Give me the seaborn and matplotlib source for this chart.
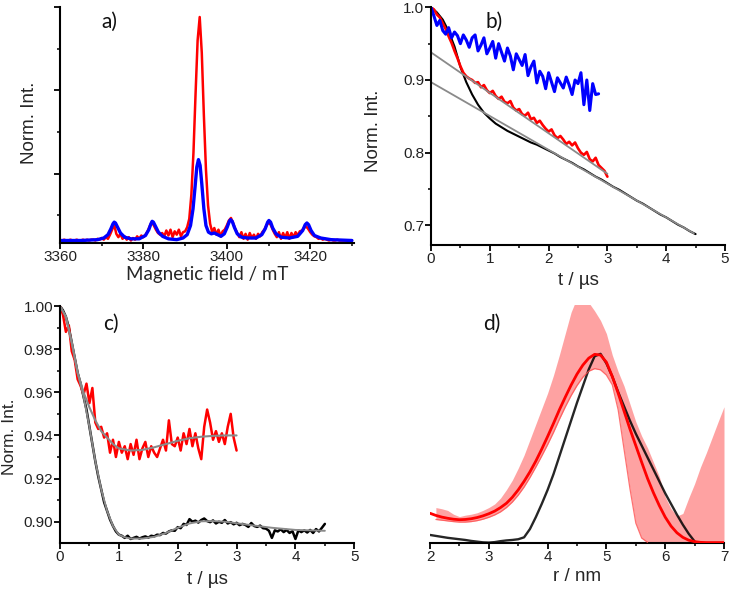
import numpy as np
import matplotlib
matplotlib.use("Agg")
import matplotlib.pyplot as plt
import seaborn as sns

# ---- panel a: EPR spectra (field in mT, arbitrary intensity) ----
a_red_field = np.arange(3360, 3430.01, 0.5)
a_red = [
    0.20, 0.20, 0.21, 0.20, 0.20, 0.21, 0.20, 0.20, 0.21, 0.20,
    0.20, 0.21, 0.20, 0.21, 0.20, 0.21, 0.21, 0.20, 0.22, 0.21,
    0.23, 0.21, 0.24, 0.22, 0.27, 0.33, 0.39, 0.28, 0.24, 0.28,
    0.22, 0.25, 0.21, 0.24, 0.20, 0.23, 0.21, 0.25, 0.22, 0.26,
    0.24, 0.27, 0.31, 0.37, 0.42, 0.38, 0.33, 0.29, 0.27, 0.29,
    0.25, 0.32, 0.26, 0.33, 0.24, 0.31, 0.27, 0.33, 0.25, 0.30,
    0.31, 0.36, 0.46, 0.75, 1.25, 1.95, 2.60, 2.88, 2.45, 1.70,
    1.05, 0.62, 0.40, 0.30, 0.35, 0.27, 0.33, 0.25, 0.31, 0.33,
    0.38, 0.44, 0.47, 0.41, 0.34, 0.29, 0.24, 0.30, 0.22, 0.28,
    0.21, 0.29, 0.23, 0.27, 0.22, 0.28, 0.25, 0.30, 0.33, 0.38,
    0.42, 0.39, 0.33, 0.28, 0.24, 0.30, 0.22, 0.29, 0.23, 0.30,
    0.22, 0.29, 0.24, 0.30, 0.26, 0.31, 0.32, 0.35, 0.37, 0.34,
    0.30, 0.27, 0.25, 0.24, 0.22, 0.23, 0.21, 0.22, 0.21, 0.20,
    0.21, 0.20, 0.20, 0.21, 0.20, 0.20, 0.20, 0.20, 0.20, 0.20,
    0.20,
]
a_blue_field = [
    3360, 3365, 3369, 3370.5, 3371.5, 3372.2, 3372.7, 3373.0, 3373.3, 3373.8,
    3374.5, 3375.5, 3377, 3379, 3380.5, 3381.3, 3381.8, 3382.1, 3382.4, 3382.9,
    3383.6, 3384.6, 3386, 3388, 3389.5, 3390.5, 3391.3, 3391.9, 3392.4, 3392.8,
    3393.2, 3393.6, 3394.0, 3394.5, 3395.0, 3395.6, 3396.3, 3397.0, 3397.8, 3398.6,
    3399.4, 3400.1, 3400.6, 3400.9, 3401.3, 3401.8, 3402.5, 3403.5, 3405, 3407,
    3408.4, 3409.2, 3409.8, 3410.1, 3410.5, 3411.0, 3411.8, 3413, 3415, 3417,
    3418.2, 3418.8, 3419.2, 3419.6, 3420.2, 3421, 3422.5, 3425, 3430,
]
a_blue = [
    0.20, 0.20, 0.21, 0.23, 0.27, 0.34, 0.40, 0.42, 0.41, 0.36,
    0.29, 0.24, 0.22, 0.22, 0.26, 0.33, 0.40, 0.43, 0.42, 0.37,
    0.30, 0.25, 0.22, 0.21, 0.23, 0.27, 0.38, 0.58, 0.85, 1.08,
    1.17, 1.10, 0.88, 0.58, 0.38, 0.30, 0.28, 0.29, 0.27, 0.25,
    0.28, 0.36, 0.43, 0.45, 0.43, 0.36, 0.28, 0.24, 0.23, 0.23,
    0.27, 0.34, 0.42, 0.44, 0.42, 0.35, 0.28, 0.24, 0.23, 0.25,
    0.32, 0.39, 0.41, 0.39, 0.32, 0.26, 0.23, 0.21, 0.20,
]

# ---- panel b: raw DEER traces ----
b_black_t = np.round(np.arange(0, 4.501, 0.1), 2)
b_black = [
    1.000, 0.993, 0.983, 0.967, 0.946, 0.918, 0.897, 0.880, 0.866, 0.855,
    0.847, 0.840, 0.835, 0.830, 0.826, 0.822, 0.818, 0.814, 0.811, 0.807,
    0.803, 0.799, 0.794, 0.790, 0.786, 0.781, 0.777, 0.772, 0.767, 0.763,
    0.758, 0.753, 0.749, 0.744, 0.739, 0.734, 0.730, 0.725, 0.720, 0.715,
    0.711, 0.706, 0.701, 0.697, 0.692, 0.688,
]
b_red_t = np.round(np.arange(0, 3.001, 0.05), 2)
b_red = [
    1.000, 0.997, 0.990, 0.986, 0.978, 0.970, 0.960, 0.951, 0.940, 0.930,
    0.919, 0.910, 0.905, 0.902, 0.900, 0.896, 0.897, 0.890, 0.893, 0.886,
    0.882, 0.885, 0.878, 0.874, 0.877, 0.870, 0.868, 0.871, 0.862, 0.858,
    0.860, 0.853, 0.851, 0.855, 0.846, 0.848, 0.841, 0.844, 0.838, 0.833,
    0.829, 0.832, 0.824, 0.820, 0.823, 0.818, 0.812, 0.815, 0.810, 0.814,
    0.806, 0.800, 0.797, 0.801, 0.791, 0.788, 0.793, 0.783, 0.779, 0.775,
    0.767,
]
b_blue_t = np.round(np.arange(0, 2.851, 0.05), 2)
b_blue = [
    1.000, 0.988, 0.975, 0.982, 0.968, 0.963, 0.972, 0.958, 0.966, 0.961,
    0.950, 0.962, 0.955, 0.945, 0.958, 0.962, 0.940, 0.948, 0.958, 0.936,
    0.944, 0.953, 0.930, 0.950, 0.938, 0.926, 0.944, 0.933, 0.914, 0.936,
    0.928, 0.920, 0.935, 0.906, 0.918, 0.926, 0.896, 0.912, 0.905, 0.888,
    0.910, 0.897, 0.884, 0.903, 0.896, 0.889, 0.904, 0.893, 0.880, 0.900,
    0.895, 0.910, 0.866, 0.900, 0.858, 0.895, 0.880, 0.881,
]
b_bg_low_t = [0.0, 4.47]
b_bg_low = [0.897, 0.689]
b_bg_up_t = [0.0, 3.0]
b_bg_up = [0.938, 0.771]

# ---- panel c: background corrected traces and fits ----
c_red_t = np.round(np.arange(0, 3.001, 0.05), 2)
c_red = [
    1.000, 0.996, 0.988, 0.991, 0.979, 0.975, 0.966, 0.963, 0.959, 0.964,
    0.955, 0.962, 0.946, 0.943, 0.944, 0.939, 0.941, 0.932, 0.938, 0.930,
    0.937, 0.932, 0.935, 0.929, 0.936, 0.931, 0.938, 0.929, 0.934, 0.937,
    0.930, 0.935, 0.932, 0.930, 0.934, 0.938, 0.933, 0.947, 0.936, 0.935,
    0.939, 0.933, 0.941, 0.936, 0.943, 0.935, 0.941, 0.934, 0.929, 0.944,
    0.952, 0.946, 0.938, 0.942, 0.937, 0.941, 0.936, 0.944, 0.950, 0.939,
    0.933,
]
c_black_t = np.round(np.arange(0, 4.501, 0.05), 2)
c_black = [
    1.000, 0.998, 0.995, 0.990, 0.983, 0.976, 0.969, 0.964, 0.958, 0.952,
    0.944, 0.936, 0.928, 0.921, 0.915, 0.909, 0.905, 0.901, 0.898, 0.8955,
    0.8940, 0.8935, 0.8925, 0.8935, 0.8920, 0.8925, 0.8930, 0.8922, 0.8928, 0.8932,
    0.8926, 0.8935, 0.8932, 0.8940, 0.8938, 0.8948, 0.8945, 0.8955, 0.8960, 0.8958,
    0.8975, 0.8970, 0.8990, 0.8985, 0.9012, 0.9000, 0.9005, 0.8996, 0.9008, 0.9015,
    0.9003, 0.8998, 0.9006, 0.8992, 0.9000, 0.8995, 0.9008, 0.8992, 0.8998, 0.8988,
    0.8995, 0.8984, 0.8990, 0.8985, 0.8976, 0.8994, 0.8980, 0.8976, 0.8982, 0.8970,
    0.8968, 0.8958, 0.8925, 0.8960, 0.8955, 0.8965, 0.8952, 0.8962, 0.8948, 0.8956,
    0.8920, 0.8960, 0.8952, 0.8960, 0.8950, 0.8962, 0.8948, 0.8966, 0.8955, 0.8972,
    0.8990,
]
c_red_fit_t = [0, 0.1, 0.2, 0.3, 0.4, 0.5, 0.6, 0.7, 0.8, 0.9, 1.0,
               1.2, 1.4, 1.6, 1.8, 2.0, 2.2, 2.4, 2.6, 2.8, 3.0]
c_red_fit = [1.000, 0.995, 0.983, 0.969, 0.960, 0.953, 0.947, 0.942, 0.939, 0.936, 0.934,
             0.933, 0.9333, 0.9345, 0.936, 0.9375, 0.9387, 0.9394, 0.9398, 0.940, 0.940]
c_black_fit_t = [0, 0.1, 0.2, 0.3, 0.4, 0.5, 0.6, 0.7, 0.8, 0.9, 1.0, 1.1, 1.2,
                 1.4, 1.6, 1.8, 2.0, 2.2, 2.4, 2.6, 2.8, 3.0, 3.3, 3.6, 4.0, 4.5]
c_black_fit = [1.000, 0.995, 0.983, 0.969, 0.958, 0.944, 0.928, 0.915, 0.905, 0.898,
               0.894, 0.8928, 0.8922, 0.8922, 0.8930, 0.8948, 0.8972, 0.8992, 0.9002,
               0.9003, 0.9000, 0.8993, 0.8982, 0.8972, 0.8962, 0.8958]

# ---- panel d: distance distributions ----
d_r = np.round(np.arange(2.0, 7.001, 0.1), 2)
d_red = [
    0.126, 0.117, 0.110, 0.105, 0.101, 0.099, 0.100, 0.103, 0.108, 0.115,
    0.124, 0.135, 0.150, 0.168, 0.193, 0.224, 0.260, 0.300, 0.345, 0.395,
    0.448, 0.503, 0.560, 0.613, 0.664, 0.710, 0.748, 0.777, 0.793, 0.790,
    0.760, 0.700, 0.630, 0.555, 0.480, 0.410, 0.340, 0.272, 0.212, 0.158,
    0.110, 0.072, 0.044, 0.025, 0.013, 0.007, 0.004, 0.003, 0.003, 0.003,
    0.003,
]
d_black_r = np.round(np.arange(2.0, 6.501, 0.1), 2)
d_black = [
    0.035, 0.031, 0.027, 0.023, 0.020, 0.017, 0.014, 0.010, 0.007, 0.004,
    0.003, 0.005, 0.009, 0.012, 0.014, 0.017, 0.025, 0.060, 0.110, 0.165,
    0.224, 0.290, 0.365, 0.440, 0.515, 0.590, 0.660, 0.730, 0.785, 0.795,
    0.755, 0.700, 0.635, 0.575, 0.515, 0.460, 0.410, 0.360, 0.310, 0.260,
    0.210, 0.165, 0.120, 0.078, 0.040, 0.008,
]
d_band_r = np.round(np.arange(2.1, 7.001, 0.1), 2)
d_band_low = [
    0.100, 0.097, 0.094, 0.091, 0.089, 0.089, 0.091, 0.095, 0.101,
    0.109, 0.119, 0.132, 0.150, 0.173, 0.202, 0.236, 0.276, 0.320, 0.366,
    0.414, 0.465, 0.520, 0.572, 0.620, 0.662, 0.697, 0.722, 0.733, 0.728,
    0.706, 0.665, 0.560, 0.395, 0.230, 0.085, 0.022, 0.004, 0.0, 0.0,
    0.0, 0.0, 0.0, 0.0, 0.0, 0.0, 0.0, 0.0, 0.0, 0.0, 0.0,
]
d_band_up = [
    0.150, 0.145, 0.138, 0.122, 0.112, 0.118, 0.122, 0.128, 0.138,
    0.150, 0.165, 0.190, 0.225, 0.265, 0.315, 0.370, 0.435, 0.500, 0.565,
    0.630, 0.705, 0.790, 0.880, 0.970, 1.030, 1.040, 1.010, 0.975, 0.935,
    0.880, 0.790, 0.720, 0.660, 0.585, 0.510, 0.450, 0.400, 0.340, 0.280,
    0.195, 0.145, 0.115, 0.125, 0.190, 0.250, 0.320, 0.380, 0.445, 0.510, 0.573,
]

RED = "#ff0000"
BLUE = "#0000ff"
GRAY = "#8a8a8a"
PINK = "#fea2a2"

sns.set_theme(style="ticks")
plt.rcParams["font.family"] = ["Liberation Sans", "DejaVu Sans"]
plt.rcParams["axes.linewidth"] = 1.5
plt.rcParams["xtick.major.width"] = 1.3
plt.rcParams["ytick.major.width"] = 1.3
plt.rcParams["xtick.minor.width"] = 1.1
plt.rcParams["ytick.minor.width"] = 1.1


def style_axes(ax, xlim, ylim, xmaj, xmin, ymaj=None, ymin=None, ylabels=True, left=True):
    ax.set_xlim(*xlim)
    ax.set_ylim(*ylim)
    ax.set_xticks(xmaj)
    ax.set_xticks(xmin, minor=True)
    if left:
        ax.set_yticks(ymaj)
        ax.set_yticks(ymin, minor=True)
        if not ylabels:
            ax.set_yticklabels([])
    else:
        ax.set_yticks([])
        ax.spines["left"].set_visible(False)
    for s in ("top", "right"):
        ax.spines[s].set_visible(False)
    for s in ("left", "bottom"):
        ax.spines[s].set_color("black")
    ax.tick_params(which="major", direction="out", length=4, color="black",
                   labelsize=11, pad=1, labelcolor="#222222")
    ax.tick_params(which="minor", direction="out", length=2.5, color="black")
    ax.set_facecolor("white")


fig = plt.figure(figsize=(7.29, 5.91), dpi=100)
W, H = 729, 591
ax_a = fig.add_axes([60 / W, 1 - 243 / H, 294 / W, 236 / H])
ax_b = fig.add_axes([431 / W, 1 - 245 / H, 294 / W, 237.7 / H])
ax_c = fig.add_axes([60 / W, 1 - 543.3 / H, 294.3 / W, 237.3 / H])
ax_d = fig.add_axes([430 / W, 1 - 543.3 / H, 294 / W, 238.3 / H])

# a)
sns.lineplot(x=a_red_field, y=a_red, ax=ax_a, color=RED, lw=1.8,
             estimator=None, sort=False)
sns.lineplot(x=a_blue_field, y=a_blue, ax=ax_a, color=BLUE, lw=2.4,
             estimator=None, sort=False)
style_axes(ax_a, (3360, 3430.5), (0.17, 3.0), [3360, 3380, 3400, 3420],
           [3370, 3390, 3410, 3430], [1, 2, 3], [0.5, 1.5, 2.5], ylabels=False)
ax_a.set_xlabel("Magnetic field / mT", fontsize=13.5, family=["Lato", "DejaVu Sans"])
ax_a.set_ylabel("Norm. Int.", fontsize=13.5)
ax_a.xaxis.set_label_coords(0.5, -0.098)
ax_a.yaxis.set_label_coords(-0.075, 0.51)

# b)
sns.lineplot(x=b_black_t, y=b_black, ax=ax_b, color="black", lw=1.5,
             estimator=None, sort=False)
sns.lineplot(x=b_red_t, y=b_red, ax=ax_b, color=RED, lw=1.9,
             estimator=None, sort=False)
sns.lineplot(x=b_blue_t, y=b_blue, ax=ax_b, color=BLUE, lw=2.2,
             estimator=None, sort=False)
sns.lineplot(x=b_bg_low_t, y=b_bg_low, ax=ax_b, color=GRAY, lw=1.3,
             estimator=None, sort=False)
sns.lineplot(x=b_bg_up_t, y=b_bg_up, ax=ax_b, color=GRAY, lw=1.3,
             estimator=None, sort=False)
style_axes(ax_b, (0, 5), (0.673, 1.0), [0, 1, 2, 3, 4, 5],
           [0.5, 1.5, 2.5, 3.5, 4.5], [0.7, 0.8, 0.9, 1.0], [0.75, 0.85, 0.95])
ax_b.set_yticklabels(["0.7", "0.8", "0.9", "1.0"])
ax_b.set_xlabel("t / \u00b5s", fontsize=13.5)
ax_b.set_ylabel("Norm. Int.", fontsize=13.5)
ax_b.xaxis.set_label_coords(0.5, -0.112)
ax_b.yaxis.set_label_coords(-0.165, 0.48)

# c)
sns.lineplot(x=c_black_t, y=c_black, ax=ax_c, color="black", lw=1.8,
             estimator=None, sort=False)
sns.lineplot(x=c_red_t, y=c_red, ax=ax_c, color=RED, lw=1.8,
             estimator=None, sort=False)
sns.lineplot(x=c_black_fit_t, y=c_black_fit, ax=ax_c, color=GRAY, lw=1.4,
             estimator=None, sort=False)
sns.lineplot(x=c_red_fit_t, y=c_red_fit, ax=ax_c, color=GRAY, lw=1.5,
             estimator=None, sort=False)
style_axes(ax_c, (0, 5), (0.89, 1.0), [0, 1, 2, 3, 4, 5],
           [0.5, 1.5, 2.5, 3.5, 4.5], [0.90, 0.92, 0.94, 0.96, 0.98, 1.00],
           [0.91, 0.93, 0.95, 0.97, 0.99])
ax_c.set_yticklabels(["0.90", "0.92", "0.94", "0.96", "0.98", "1.00"])
ax_c.set_xlabel("t / \u00b5s", fontsize=13.5)
ax_c.set_ylabel("Norm. Int.", fontsize=12.5)
ax_c.xaxis.set_label_coords(0.5, -0.118)
ax_c.yaxis.set_label_coords(-0.145, 0.45)

# d)
ax_d.fill_between(d_band_r, d_band_low, d_band_up, color=PINK, lw=0, zorder=1)
sns.lineplot(x=d_black_r, y=d_black, ax=ax_d, color="black", lw=1.7, alpha=0.85,
             estimator=None, sort=False, zorder=2)
sns.lineplot(x=d_band_r[:37], y=d_band_low[:37], ax=ax_d, color="#ff5050", lw=0.9,
             alpha=0.8, estimator=None, sort=False, zorder=3)
sns.lineplot(x=d_r, y=d_red, ax=ax_d, color=RED, lw=2.0,
             estimator=None, sort=False, zorder=4)
style_axes(ax_d, (2, 7), (0, 1.0), [2, 3, 4, 5, 6, 7], [2.5, 3.5, 4.5, 5.5, 6.5],
           left=False)
ax_d.set_xlabel("r / nm", fontsize=13.5)
ax_d.xaxis.set_label_coords(0.5, -0.104)
ax_d.set_ylabel("")

# panel letters
for txt, px, py in [("a)", 109, 22), ("b)", 494, 22), ("c)", 111, 324), ("d)", 492, 324)]:
    fig.text(px / W, 1 - py / H, txt, fontsize=15, ha="center", va="center",
             family=["Lato", "DejaVu Sans"], color="#111111")

fig.savefig("out.png", dpi=100, facecolor="white")
